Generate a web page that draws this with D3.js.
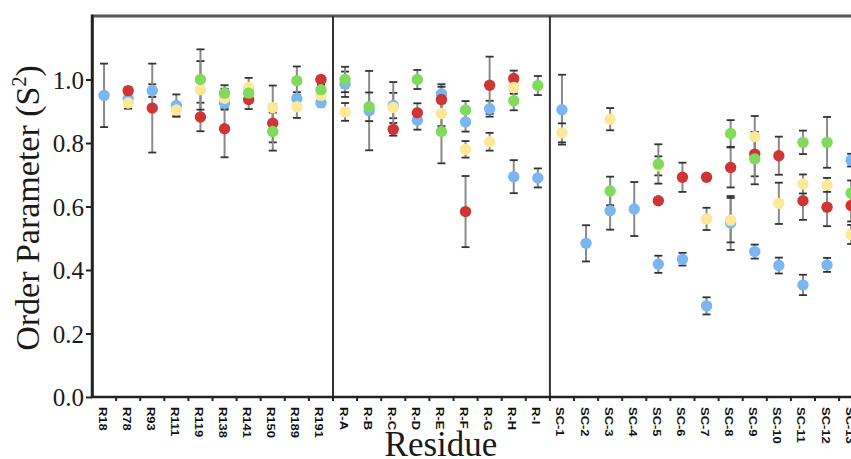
<!DOCTYPE html>
<html><head><meta charset="utf-8">
<script src="https://cdn.jsdelivr.net/npm/d3@7"></script>
<style>body{margin:0;background:#fff}svg{display:block}</style>
</head><body>
<svg id="c" width="851" height="459"></svg>
<script>
const categories = ["R18","R78","R93","R111","R119","R138","R141","R150","R189","R191",
  "R-A","R-B","R-C","R-D","R-E","R-F","R-G","R-H","R-I",
  "SC-1","SC-2","SC-3","SC-4","SC-5","SC-6","SC-7","SC-8","SC-9","SC-10","SC-11","SC-12","SC-13"];
const groupBreaks = ["R-A","SC-1"];
const yTicks = [0,0.2,0.4,0.6,0.8,1.0];

const blueVal = [0.95,0.94,0.965,0.918,null,0.925,null,null,0.94,0.927,
  0.985,0.902,0.918,0.872,0.955,0.866,0.908,0.694,0.69,
  0.905,0.484,0.587,0.592,0.418,0.434,0.287,0.548,0.458,0.414,0.353,0.416,0.746];
const blueErr = [0.10,0.015,0.02,0.035,null,0.02,null,null,0.02,0.012,
  0.04,0.125,0.04,0.03,0.03,0.03,0.025,0.052,0.03,
  0.11,0.057,0.06,0.085,0.027,0.02,0.027,0.085,0.022,0.025,0.032,0.022,0.02];

const redVal = [null,0.965,0.91,null,0.882,0.845,0.937,0.862,null,1.0,
  null,null,0.843,0.895,0.937,0.584,0.982,1.003,null,
  null,null,null,null,0.618,0.692,0.692,0.723,0.765,0.76,0.618,0.598,0.603];
const redErr = [null,0.01,0.14,null,0.045,0.09,0.03,0.06,null,0.01,
  null,null,0.02,0.03,0.04,0.112,0.09,0.025,null,
  null,null,null,null,0.008,0.046,0.008,0.063,0.07,0.06,0.06,0.06,0.05];

const greenVal = [null,null,null,null,1.0,0.957,0.957,0.836,0.996,0.968,
  1.0,0.914,null,1.0,0.836,0.904,null,0.933,0.981,
  null,null,0.649,null,0.734,null,null,0.83,0.75,null,0.802,0.802,0.642];
const greenErr = [null,null,null,null,0.095,0.025,0.025,0.06,0.045,0.015,
  0.04,0.045,null,0.03,0.1,0.028,null,0.03,0.03,
  null,null,0.045,null,0.062,null,null,0.042,0.08,null,0.037,0.08,0.04];

const yellowVal = [null,0.926,null,0.904,0.968,0.941,0.975,0.911,0.914,0.95,
  0.898,null,0.912,null,0.893,0.78,0.804,0.975,null,
  0.832,null,0.875,null,0.728,null,0.561,0.557,0.82,0.61,0.671,0.668,0.512];
const yellowErr = [null,0.018,null,0.02,0.09,0.03,0.03,0.07,0.035,0.012,
  0.028,null,0.08,null,0.04,0.026,0.028,0.02,null,
  0.03,null,0.035,null,0.03,null,0.035,0.07,0.065,0.065,0.03,0.022,0.03];

const series = [
  {name:"blue", color:"#7ab6f4", v:blueVal, e:blueErr},
  {name:"red", color:"#cf3535", v:redVal, e:redErr},
  {name:"yellow", color:"#fce896", v:yellowVal, e:yellowErr},
  {name:"green", color:"#80da5c", v:greenVal, e:greenErr}
];

const svg = d3.select("#c");
const mLeft = 92, mBottom = 397, mTop = 16;
const x = d3.scaleBand().domain(categories).range([mLeft, mLeft + categories.length*24.1]).padding(0);
const y = d3.scaleLinear().domain([0,1.2]).range([mBottom, mTop]);
const serif = "'Liberation Serif','Times New Roman',serif";

// frame lines
svg.append("line").attr("x1",mLeft).attr("x2",851).attr("y1",y(1.2)).attr("y2",y(1.2))
  .attr("stroke","#555").attr("stroke-width",3);
groupBreaks.forEach(c=>{
  svg.append("line").attr("x1",x(c)).attr("x2",x(c)).attr("y1",y(1.2)).attr("y2",mBottom)
    .attr("stroke","#333").attr("stroke-width",2);
});

// y axis
const ya = svg.append("g").attr("transform",`translate(${mLeft},0)`)
  .call(d3.axisLeft(y).tickValues(yTicks).tickFormat(d3.format(".1f")).tickSize(6).tickSizeOuter(0));
ya.select(".domain").attr("stroke","#222").attr("stroke-width",2.5);
ya.selectAll(".tick line").attr("stroke","#222").attr("stroke-width",2);
ya.selectAll(".tick text").attr("font-family",serif)
  .attr("font-size",25).attr("fill","#1a1a1a").attr("x",-8).attr("dy","0.34em");
svg.append("line").attr("x1",mLeft).attr("x2",mLeft).attr("y1",y(1.2)-1.5).attr("y2",mBottom)
  .attr("stroke","#222").attr("stroke-width",2.5);

// x axis
const xa = svg.append("g").attr("transform",`translate(0,${mBottom})`)
  .call(d3.axisBottom(x).tickSize(0).tickSizeOuter(0));
xa.select(".domain").remove();
svg.append("line").attr("x1",mLeft).attr("x2",851).attr("y1",mBottom).attr("y2",mBottom)
  .attr("stroke","#222").attr("stroke-width",2.5);
svg.append("g").selectAll("line").data(categories).join("line")
  .attr("x1",d=>x(d)+x.bandwidth()).attr("x2",d=>x(d)+x.bandwidth())
  .attr("y1",mBottom).attr("y2",mBottom+4).attr("stroke","#222").attr("stroke-width",2);
xa.selectAll(".tick text")
  .attr("font-family","'Liberation Sans',Arial,sans-serif").attr("font-weight","bold")
  .attr("font-size",10).attr("fill","#111")
  .attr("text-anchor","start").attr("transform","translate(-2,10) rotate(90) scale(1.3,1)")
  .attr("x",0).attr("y",0).attr("dy","0.35em");

// error bars
series.forEach(s=>{
  const g = svg.append("g");
  categories.forEach((c,i)=>{
    if (s.v[i]==null || s.e[i]==null) return;
    const cx = x(c)+x.bandwidth()/2;
    const y1 = y(s.v[i]+s.e[i]), y2 = y(s.v[i]-s.e[i]);
    g.append("line").attr("x1",cx).attr("x2",cx).attr("y1",y1).attr("y2",y2)
      .attr("stroke","#8a8a8a").attr("stroke-width",2);
    [y1,y2].forEach(yy=>g.append("line").attr("x1",cx-4).attr("x2",cx+4).attr("y1",yy).attr("y2",yy)
      .attr("stroke","#333").attr("stroke-width",1.8));
  });
});
// dots
series.forEach(s=>{
  svg.append("g").selectAll("circle")
    .data(categories.map((c,i)=>({c,v:s.v[i]})).filter(d=>d.v!=null))
    .join("circle")
    .attr("cx",d=>x(d.c)+x.bandwidth()/2).attr("cy",d=>y(d.v)).attr("r",5.7)
    .attr("fill",s.color);
});

// titles
const yt = svg.append("text").attr("transform","translate(39,208) rotate(-90)")
  .attr("text-anchor","middle").attr("font-family",serif)
  .attr("font-size",34).attr("fill","#1a1a1a");
yt.append("tspan").text("Order Parameter (S");
yt.append("tspan").attr("font-size",20).attr("dy",-13).text("2");
yt.append("tspan").attr("dy",13).text(")");
svg.append("text").attr("x",441).attr("y",456)
  .attr("text-anchor","middle").attr("font-family",serif)
  .attr("font-size",35).attr("fill","#1a1a1a").text("Residue");
</script>
</body></html>
